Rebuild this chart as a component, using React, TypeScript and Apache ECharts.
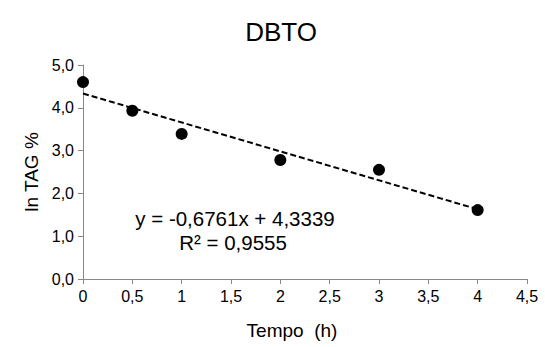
import React, { useEffect, useRef } from "react";
import * as echarts from "echarts";

const timeHours = [0, 0.5, 1, 2, 3, 4];
const lnTag = [4.6, 3.93, 3.39, 2.78, 2.55, 1.61];
const trendX = [0, 4];
const trendY = [4.3339, 1.6295];
const equationLines = ["y = -0,6761x + 4,3339", "R² = 0,9555"];

const fmt = (v: number, d: number) => v.toFixed(d).replace(".", ",");

export default function App() {
  const ref = useRef<HTMLDivElement>(null);
  useEffect(() => {
    const chart = echarts.init(ref.current!, null, { renderer: "svg" });
    const font = "Liberation Sans, Arial, sans-serif";
    chart.setOption({
      animation: false,
      backgroundColor: "#fff",
      title: {
        text: "DBTO",
        left: 276,
        top: 14,
        textAlign: "center",
        textStyle: { fontFamily: font, fontSize: 26, fontWeight: "normal", color: "#000" },
      },
      grid: { left: 83, right: 18, top: 65, bottom: 68 },
      xAxis: {
        type: "value",
        min: 0,
        max: 4.5,
        interval: 0.5,
        axisLine: { lineStyle: { color: "#888", width: 1 } },
        axisTick: { show: true, length: 5, lineStyle: { color: "#888" } },
        axisLabel: { fontFamily: font, fontSize: 16, color: "#000", margin: 9, formatter: (v: number) => (Number.isInteger(v) ? String(v) : fmt(v, 1)) },
        splitLine: { show: false },
      },
      yAxis: {
        type: "value",
        min: 0,
        max: 5,
        interval: 1,
        name: "ln TAG %",
        nameLocation: "middle",
        nameGap: 42,
        nameRotate: 90,
        nameTextStyle: { fontFamily: font, fontSize: 19, color: "#000" },
        axisLine: { show: true, lineStyle: { color: "#888", width: 1 } },
        axisTick: { show: true, length: 5, lineStyle: { color: "#888" } },
        axisLabel: { fontFamily: font, fontSize: 16, color: "#000", margin: 9, formatter: (v: number) => fmt(v, 1) },
        splitLine: { show: false },
      },
      series: [
        {
          type: "line",
          data: trendX.map((x, i) => [x, trendY[i]]),
          showSymbol: false,
          symbol: "none",
          lineStyle: { color: "#000", width: 2, type: [6, 3] },
          z: 1,
        },
        {
          type: "scatter",
          data: timeHours.map((x, i) => [x, lnTag[i]]),
          symbol: "circle",
          symbolSize: 12,
          itemStyle: { color: "#000", opacity: 1 },
          z: 2,
        },
      ],
      graphic: [
        {
          type: "text",
          x: 235,
          y: 218,
          style: { text: equationLines[0], fontFamily: font, fontSize: 20.5, fill: "#000", textAlign: "center", textVerticalAlign: "middle" },
        },
        {
          type: "text",
          x: 233,
          y: 242,
          style: { text: equationLines[1], fontFamily: font, fontSize: 20.5, fill: "#000", textAlign: "center", textVerticalAlign: "middle" },
        },
        {
          type: "text",
          x: 292,
          y: 330,
          style: { text: "Tempo  (h)", fontFamily: font, fontSize: 19, fill: "#000", textAlign: "center", textVerticalAlign: "middle" },
        },
      ],
    });
    return () => chart.dispose();
  }, []);
  return <div ref={ref} style={{ width: 545, height: 347, position: "absolute", left: 0, top: 0 }} />;
}
